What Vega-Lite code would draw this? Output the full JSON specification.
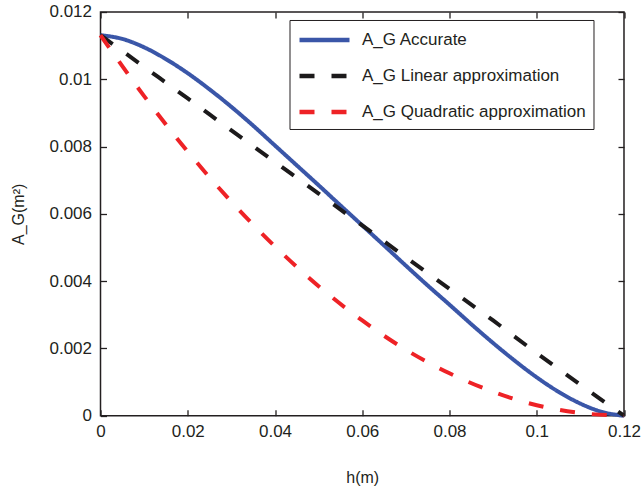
{
  "$schema": "https://vega.github.io/schema/vega-lite/v6.json",
  "autosize": {"type": "none"},
  "width": 523.5,
  "height": 403.7,
  "padding": {"left": 100.5, "top": 12, "right": 18, "bottom": 73},
  "background": "white",
  "config": {
    "font": "Liberation Sans",
    "view": {"stroke": "#231f20", "strokeWidth": 1.5},
    "axis": {"grid": false, "domain": false, "ticks": true, "tickColor": "#231f20", "tickWidth": 1.3, "tickSize": 6, "offset": -6, "zindex": 1, "labelColor": "#231f20", "titleColor": "#231f20", "labelFontSize": 17, "titleFontSize": 16, "titleFontWeight": "normal", "labelFlush": false, "labelOverlap": false}
  },
  "data": {"values": [
    {"h": 0, "A": 0.01131, "s": "A_G Accurate"},
    {"h": 0.005, "A": 0.0112, "s": "A_G Accurate"},
    {"h": 0.01, "A": 0.01095, "s": "A_G Accurate"},
    {"h": 0.015, "A": 0.0106, "s": "A_G Accurate"},
    {"h": 0.02, "A": 0.01018, "s": "A_G Accurate"},
    {"h": 0.025, "A": 0.0097, "s": "A_G Accurate"},
    {"h": 0.03, "A": 0.00918, "s": "A_G Accurate"},
    {"h": 0.035, "A": 0.00862, "s": "A_G Accurate"},
    {"h": 0.04, "A": 0.00803, "s": "A_G Accurate"},
    {"h": 0.045, "A": 0.00744, "s": "A_G Accurate"},
    {"h": 0.05, "A": 0.00685, "s": "A_G Accurate"},
    {"h": 0.055, "A": 0.00625, "s": "A_G Accurate"},
    {"h": 0.06, "A": 0.005655, "s": "A_G Accurate"},
    {"h": 0.065, "A": 0.00506, "s": "A_G Accurate"},
    {"h": 0.07, "A": 0.00446, "s": "A_G Accurate"},
    {"h": 0.075, "A": 0.00387, "s": "A_G Accurate"},
    {"h": 0.08, "A": 0.0033, "s": "A_G Accurate"},
    {"h": 0.085, "A": 0.00272, "s": "A_G Accurate"},
    {"h": 0.09, "A": 0.00216, "s": "A_G Accurate"},
    {"h": 0.095, "A": 0.00163, "s": "A_G Accurate"},
    {"h": 0.1, "A": 0.00114, "s": "A_G Accurate"},
    {"h": 0.105, "A": 0.00071, "s": "A_G Accurate"},
    {"h": 0.11, "A": 0.00036, "s": "A_G Accurate"},
    {"h": 0.115, "A": 0.00011, "s": "A_G Accurate"},
    {"h": 0.12, "A": 0, "s": "A_G Accurate"},
    {"h": 0, "A": 0.01131, "s": "A_G Linear approximation"},
    {"h": 0.01, "A": 0.01037, "s": "A_G Linear approximation"},
    {"h": 0.02, "A": 0.00943, "s": "A_G Linear approximation"},
    {"h": 0.03, "A": 0.00848, "s": "A_G Linear approximation"},
    {"h": 0.04, "A": 0.00754, "s": "A_G Linear approximation"},
    {"h": 0.05, "A": 0.0066, "s": "A_G Linear approximation"},
    {"h": 0.06, "A": 0.005655, "s": "A_G Linear approximation"},
    {"h": 0.07, "A": 0.00471, "s": "A_G Linear approximation"},
    {"h": 0.08, "A": 0.00377, "s": "A_G Linear approximation"},
    {"h": 0.09, "A": 0.00283, "s": "A_G Linear approximation"},
    {"h": 0.1, "A": 0.00186, "s": "A_G Linear approximation"},
    {"h": 0.11, "A": 0.00092, "s": "A_G Linear approximation"},
    {"h": 0.12, "A": 0, "s": "A_G Linear approximation"},
    {"h": 0, "A": 0.01131, "s": "A_G Quadratic approximation"},
    {"h": 0.01, "A": 0.0095, "s": "A_G Quadratic approximation"},
    {"h": 0.02, "A": 0.00785, "s": "A_G Quadratic approximation"},
    {"h": 0.03, "A": 0.00636, "s": "A_G Quadratic approximation"},
    {"h": 0.04, "A": 0.00503, "s": "A_G Quadratic approximation"},
    {"h": 0.05, "A": 0.00385, "s": "A_G Quadratic approximation"},
    {"h": 0.06, "A": 0.00283, "s": "A_G Quadratic approximation"},
    {"h": 0.07, "A": 0.00196, "s": "A_G Quadratic approximation"},
    {"h": 0.08, "A": 0.00126, "s": "A_G Quadratic approximation"},
    {"h": 0.09, "A": 0.00071, "s": "A_G Quadratic approximation"},
    {"h": 0.1, "A": 0.00031, "s": "A_G Quadratic approximation"},
    {"h": 0.11, "A": 0.00008, "s": "A_G Quadratic approximation"},
    {"h": 0.12, "A": 0, "s": "A_G Quadratic approximation"}
  ]},
  "layer": [
    {
      "mark": {"type": "line", "strokeWidth": 4, "interpolate": "monotone"},
      "encoding": {
        "x": {"field": "h", "type": "quantitative", "scale": {"domain": [0, 0.12], "nice": false, "zero": false},
              "axis": {"values": [0, 0.02, 0.04, 0.06, 0.08, 0.1, 0.12], "format": ".2~g", "labelPadding": 8, "title": "h(m)", "titlePadding": 30}},
        "y": {"field": "A", "type": "quantitative", "scale": {"domain": [0, 0.012], "nice": false},
              "axis": {"values": [0, 0.002, 0.004, 0.006, 0.008, 0.01, 0.012], "format": ".2~g", "labelPadding": 9, "title": "A_G(m²)", "titlePadding": 22}},
        "color": {"field": "s", "type": "nominal",
                  "scale": {"domain": ["A_G Accurate", "A_G Linear approximation", "A_G Quadratic approximation"], "range": ["#3a56a8", "#1c1a1b", "#ee2226"]},
                  "legend": {"title": null, "orient": "none", "legendX": 189, "legendY": 8, "symbolType": "M-1,0H4", "symbolSize": 400, "symbolStrokeWidth": 4.5, "labelFontSize": 17, "labelLimit": 400, "labelColor": "#231f20", "strokeColor": "#231f20", "padding": 7.5, "rowPadding": 14, "labelOffset": 40, "fillColor": "white"}},
        "strokeDash": {"field": "s", "type": "nominal",
                  "scale": {"domain": ["A_G Accurate", "A_G Linear approximation", "A_G Quadratic approximation"], "range": [[1, 0], [15, 17], [15, 17]]},
                  "legend": null}
      }
    },
    {
      "mark": {"type": "point", "opacity": 0, "size": 1},
      "encoding": {
        "x": {"field": "h", "type": "quantitative", "axis": {"orient": "top", "values": [0, 0.02, 0.04, 0.06, 0.08, 0.1, 0.12], "labels": false, "title": null}},
        "y": {"field": "A", "type": "quantitative", "axis": {"orient": "right", "values": [0, 0.002, 0.004, 0.006, 0.008, 0.01, 0.012], "labels": false, "title": null}}
      }
    }
  ],
  "resolve": {"axis": {"x": "independent", "y": "independent"}}
}
